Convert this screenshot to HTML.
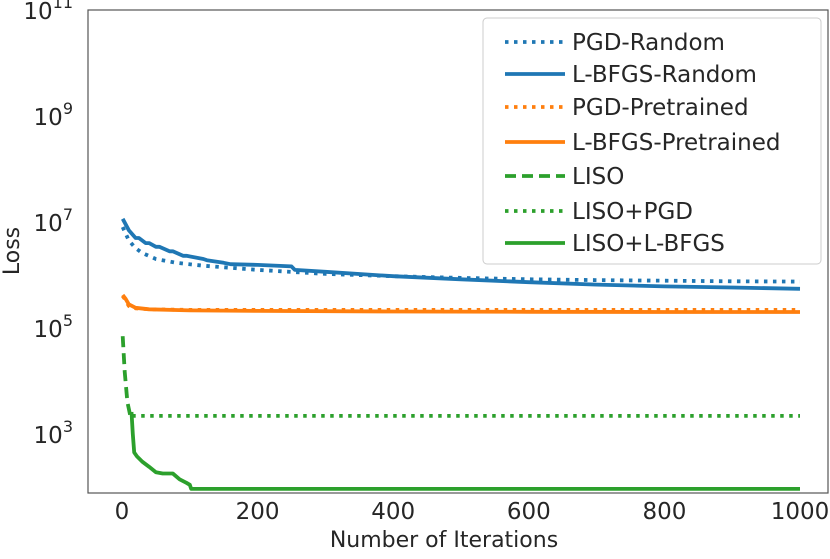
<!DOCTYPE html>
<html><head><meta charset="utf-8"><style>
body{margin:0;background:#fff;}
svg text{font-family:"DejaVu Sans","Liberation Sans",sans-serif;fill:#262626;}
</style></head><body>
<svg id="chart" width="830" height="554" xmlns="http://www.w3.org/2000/svg"></svg>
<script>
const xTicks=[0,200,400,600,800,1000];
const yTickExps=[3,5,7,9,11];
const seriesNames=["PGD-Random","L-BFGS-Random","PGD-Pretrained","L-BFGS-Pretrained","LISO","LISO+PGD","LISO+L-BFGS"];
const pgdRandomX=[1,10,20,30,50,80,120,200,300,400,500,600,700,800,900,1000];
const pgdRandomY=[8e6,4.5e6,3.2e6,2.6e6,2.0e6,1.7e6,1.5e6,1.25e6,1.05e6,9.5e5,8.8e5,8.3e5,8e5,7.8e5,7.6e5,7.5e5];
const lbfgsRandomX=[1,10,20,25,35,40,50,55,70,75,90,95,120,125,150,160,200,250,255,300,400,500,600,700,800,900,1000];
const lbfgsRandomY=[1.15e7,7e6,5e6,5e6,4e6,4e6,3.4e6,3.4e6,2.8e6,2.8e6,2.3e6,2.3e6,2.0e6,1.9e6,1.7e6,1.6e6,1.55e6,1.45e6,1.25e6,1.15e6,9.5e5,8.3e5,7.3e5,6.6e5,6.1e5,5.8e5,5.5e5];
const pgdPreX=[1,5,10,20,40,100,200,400,600,800,1000];
const pgdPreY=[4e5,3.4e5,2.6e5,2.35e5,2.25e5,2.2e5,2.2e5,2.2e5,2.2e5,2.2e5,2.2e5];
const lbfgsPreX=[1,5,10,20,40,100,200,400,600,800,1000];
const lbfgsPreY=[4.2e5,3.6e5,2.8e5,2.4e5,2.25e5,2.15e5,2.1e5,2.05e5,2.02e5,2.0e5,2.0e5];
const lisoX=[1,4,8,12,15];
const lisoY=[7e4,1.5e4,4e3,2.3e3,2.5e3];
const lisoPgdX=[15,1000];
const lisoPgdY=[2.2e3,2.2e3];
const lisoLbX=[14,16,18,22,30,40,50,60,75,85,95,100,102,105,1000];
const lisoLbY=[2.6e3,1e3,450,380,300,240,190,180,180,140,120,110,92,92,92];

const svg=document.getElementById('chart');
const NS='http://www.w3.org/2000/svg';
const L=88,R=828,T=10,B=493;
const yTopExp=11,decPx=53;
function xs(v){return 122+(v-0)*(800-122)/1000;}
function ys(v){return T+(yTopExp-Math.log10(v))*decPx;}
function mk(tag,attrs){const e=document.createElementNS(NS,tag);for(const k in attrs)e.setAttribute(k,attrs[k]);svg.appendChild(e);return e;}

const clip=mk('clipPath',{id:'pc'});
const cr=document.createElementNS(NS,'rect');cr.setAttribute('x',L);cr.setAttribute('y',T);cr.setAttribute('width',R-L);cr.setAttribute('height',B-T);clip.appendChild(cr);

const frame=mk('rect',{x:L,y:T,width:R-L,height:B-T,fill:'none',stroke:'#555','stroke-width':1.2});



xTicks.forEach(v=>{const t=mk('text',{x:xs(v),y:519,'font-size':23,'text-anchor':'middle'});t.textContent=v;

});
yTickExps.forEach(e=>{const y=T+(yTopExp-e)*decPx;const t=mk('text',{x:73,y:y+9,'font-size':23,'text-anchor':'end'});
t.innerHTML='10<tspan dy="-11" font-size="16">'+e+'</tspan>';

});
const xt=mk('text',{x:444,y:547,'font-size':22,'text-anchor':'middle'});xt.textContent='Number of Iterations';


const yt=mk('text',{x:0,y:0,'font-size':22,'text-anchor':'middle',transform:'translate(19,251) rotate(-90)'});yt.textContent='Loss';



const blue='#1f77b4',orange='#ff7f0e',green='#2ca02c';
const dot='3.5,5.5',dash='11,6';
const series=[
 [pgdRandomX,pgdRandomY,blue,dot,'pgd-random-line'],
 [lbfgsRandomX,lbfgsRandomY,blue,null,'lbfgs-random-line'],
 [pgdPreX,pgdPreY,orange,dot,'pgd-pretrained-line'],
 [lbfgsPreX,lbfgsPreY,orange,null,'lbfgs-pretrained-line'],
 [lisoX,lisoY,green,dash,'liso-line'],
 [lisoPgdX,lisoPgdY,green,dot,'liso-pgd-line'],
 [lisoLbX,lisoLbY,green,null,'liso-lbfgs-line']];
series.forEach(s=>{const d=s[0].map((x,i)=>(i?'L':'M')+xs(x).toFixed(1)+','+ys(s[1][i]).toFixed(1)).join('');
const a={d:d,fill:'none',stroke:s[2],'stroke-width':3.8,'clip-path':'url(#pc)','stroke-linejoin':'round'};
if(s[3])a['stroke-dasharray']=s[3];
const p=mk('path',a);

});

const lg=mk('rect',{x:483,y:18,width:338,height:246,rx:4,fill:'#fff','fill-opacity':0.8,stroke:'#ccc'});


const legY=[42,74,107,142,176,211,243];
series.forEach((s,i)=>{const y=legY[i];const a={x1:505,x2:565,y1:y,y2:y,stroke:s[2],'stroke-width':3.8};
if(s[3])a['stroke-dasharray']=s[3];
const ln=mk('line',a);


const t=mk('text',{x:572,y:y+8,'font-size':23});t.textContent=seriesNames[i];

});
</script>
</body></html>
